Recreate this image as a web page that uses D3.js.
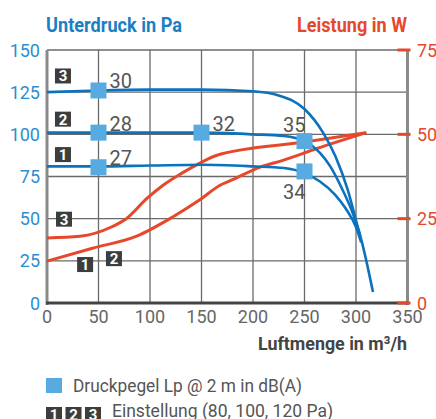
<!DOCTYPE html>
<html>
<head>
<meta charset="utf-8">
<script src="https://cdn.jsdelivr.net/npm/d3@7"></script>
<style>
  body { margin: 0; background: #fff; }
  svg { font-family: Roboto, "Liberation Sans", sans-serif; }
</style>
</head>
<body>
<div id="chart"></div>
<script>
// pressure curves (Pa) for settings 1, 2, 3: [m3/h, Pa]
const pressure1 = [[0, 81], [50, 81], [100, 81.5], [150, 82], [200, 81], [230, 80], [250, 77], [265, 72], [280, 64], [290, 56], [300, 45], [305, 36]];
const pressure2 = [[0, 101], [50, 101], [100, 101], [150, 101], [200, 100], [230, 99], [250, 96], [265, 89], [275, 81], [287, 67], [297, 53], [304, 40]];
const pressure3 = [[0, 125], [50, 126], [100, 126.5], [150, 126.5], [200, 125.5], [225, 123], [250, 115], [268, 101], [280, 87], [292, 67], [300, 49], [307, 33], [316.5, 6.5]];

// power curves (W)
const powerHigh = [[0, 19.3], [32, 19.8], [63, 22.6], [77, 25], [97, 31], [113, 35], [131, 38.5], [148, 41.4], [165, 43.8], [250, 47.7], [310, 50.5]];
const powerLow = [[0, 12.4], [45, 16.3], [87, 19.8], [122, 25.5], [148, 30.5], [168, 34.9], [179, 36.4], [207, 40.3], [229, 42.3], [262, 45.8], [310, 50.5]];

// sound pressure markers: [m3/h, Pa, dB(A)]
const soundPoints = [[50, 126, 30], [50, 101, 28], [150, 101, 32], [250, 96, 35], [50, 80.5, 27], [250, 78, 34]];

// setting badges: [m3/h, Pa, label]
const badges = [[15.5, 134.6, '3'], [15.5, 109, '2'], [15.5, 88, '1'], [16.5, 49.7, '3'], [37, 22.8, '1'], [65, 26.3, '2']];

const xTicks = [0, 50, 100, 150, 200, 250, 300, 350];
const leftTicks = [0, 25, 50, 75, 100, 125, 150];
const rightTicks = [0, 25, 50, 75];

const blue = '#0b72bd';
const red = '#e5482b';
const markerBlue = '#58abe0';

const svg = d3.select('#chart')
    .append('svg')
    .attr('width', 436)
    .attr('height', 419);

const x = d3.scaleLinear().domain([0, 350]).range([47, 407.5]);
const yL = d3.scaleLinear().domain([0, 150]).range([303, 50]);
const yR = d3.scaleLinear().domain([0, 75]).range([303, 50]);

// grid
svg.append('g')
    .selectAll('line')
    .data(xTicks.slice(1, -1))
    .enter()
    .append('line')
    .attr('x1', d => x(d)).attr('x2', d => x(d))
    .attr('y1', yL(150)).attr('y2', yL(0))
    .attr('stroke', '#6a6a6a')
    .attr('stroke-width', 1.3);

svg.append('g')
    .selectAll('line')
    .data(leftTicks.slice(1))
    .enter()
    .append('line')
    .attr('x1', x(0)).attr('x2', x(350))
    .attr('y1', d => yL(d)).attr('y2', d => yL(d))
    .attr('stroke', '#6a6a6a')
    .attr('stroke-width', 1.3);

// axes lines
svg.append('line')
    .attr('x1', x(0)).attr('x2', x(0))
    .attr('y1', yL(150)).attr('y2', yL(0) + 2)
    .attr('stroke', '#8a8a8a').attr('stroke-width', 3);
svg.append('line')
    .attr('x1', x(350)).attr('x2', x(350))
    .attr('y1', yL(150)).attr('y2', yL(0) + 2)
    .attr('stroke', '#8a8a8a').attr('stroke-width', 3);
svg.append('line')
    .attr('x1', x(0) - 1).attr('x2', x(350) + 1)
    .attr('y1', yL(0)).attr('y2', yL(0))
    .attr('stroke', '#444').attr('stroke-width', 3);

// right red tick marks
svg.append('g')
    .selectAll('line')
    .data(rightTicks)
    .enter()
    .append('line')
    .attr('x1', x(350) - 10).attr('x2', x(350) + 3)
    .attr('y1', d => yR(d)).attr('y2', d => yR(d))
    .attr('stroke', red).attr('stroke-width', 3);

// tick labels
svg.append('g')
    .selectAll('text')
    .data(leftTicks)
    .enter()
    .append('text')
    .attr('x', 40)
    .attr('y', d => yL(d) + 6.5)
    .attr('text-anchor', 'end')
    .attr('font-size', '18px')
    .attr('fill', '#2a8fd3')
    .text(d => d);

svg.append('g')
    .selectAll('text')
    .data(rightTicks)
    .enter()
    .append('text')
    .attr('x', 417)
    .attr('y', d => yR(d) + 6.5)
    .attr('font-size', '18px')
    .attr('fill', red)
    .text(d => d);

svg.append('g')
    .selectAll('text')
    .data(xTicks)
    .enter()
    .append('text')
    .attr('x', d => x(d))
    .attr('y', 323)
    .attr('text-anchor', 'middle')
    .attr('font-size', '18px')
    .attr('fill', '#666')
    .text(d => d);

// titles (condensed look via textLength)
svg.append('text')
    .attr('x', 46).attr('y', 32)
    .attr('font-size', '21px').attr('font-weight', 'bold')
    .attr('textLength', 136).attr('lengthAdjust', 'spacingAndGlyphs')
    .attr('fill', '#1b7fc4')
    .text('Unterdruck in Pa');

svg.append('text')
    .attr('x', 297).attr('y', 32)
    .attr('font-size', '21px').attr('font-weight', 'bold')
    .attr('textLength', 110).attr('lengthAdjust', 'spacingAndGlyphs')
    .attr('fill', red)
    .text('Leistung in W');

svg.append('text')
    .attr('x', 258).attr('y', 350)
    .attr('font-size', '19px').attr('font-weight', 'bold')
    .attr('textLength', 149).attr('lengthAdjust', 'spacingAndGlyphs')
    .attr('fill', '#444')
    .text('Luftmenge in m³/h');

// curves
const lineL = d3.line().x(d => x(d[0])).y(d => yL(d[1])).curve(d3.curveMonotoneX);
const lineR = d3.line().x(d => x(d[0])).y(d => yR(d[1])).curve(d3.curveMonotoneX);

[powerHigh, powerLow].forEach(function(s) {
    svg.append('path')
        .attr('d', lineR(s))
        .attr('fill', 'none')
        .attr('stroke', red)
        .attr('stroke-width', 3);
});

[pressure1, pressure2, pressure3].forEach(function(s) {
    svg.append('path')
        .attr('d', lineL(s))
        .attr('fill', 'none')
        .attr('stroke', blue)
        .attr('stroke-width', 2.6);
});

// markers
svg.append('g')
    .selectAll('rect')
    .data(soundPoints)
    .enter()
    .append('rect')
    .attr('x', d => x(d[0]) - 8)
    .attr('y', d => yL(d[1]) - 8)
    .attr('width', 16)
    .attr('height', 16)
    .attr('fill', markerBlue);

svg.append('g')
    .selectAll('text')
    .data(soundPoints)
    .enter()
    .append('text')
    .attr('x', d => d[0] === 250 ? x(d[0]) + 1 : x(d[0]) + 11)
    .attr('y', function(d) {
        if (d[2] === 35) return yL(d[1]) - 9;
        if (d[2] === 34) return yL(d[1]) + 28;
        return yL(d[1]) - 2;
    })
    .attr('text-anchor', d => d[0] === 250 ? 'end' : 'start')
    .attr('font-size', '20px')
    .attr('fill', '#555')
    .text(d => d[2]);

// setting badges
const badge = svg.append('g')
    .selectAll('g')
    .data(badges)
    .enter()
    .append('g')
    .attr('transform', d => `translate(${x(d[0])}, ${yL(d[1])})`);

badge.append('rect')
    .attr('x', -8).attr('y', -7.5)
    .attr('width', 16).attr('height', 15)
    .attr('fill', '#3d3d3d');

badge.append('text')
    .attr('y', 5.5)
    .attr('text-anchor', 'middle')
    .attr('font-size', '15px')
    .attr('font-weight', 'bold')
    .attr('fill', '#fff')
    .text(d => d[2]);

// legend
svg.append('rect')
    .attr('x', 46).attr('y', 378)
    .attr('width', 16).attr('height', 15)
    .attr('fill', markerBlue);

svg.append('text')
    .attr('x', 73).attr('y', 392)
    .attr('font-size', '19px')
    .attr('textLength', 229).attr('lengthAdjust', 'spacingAndGlyphs')
    .attr('fill', '#555')
    .text('Druckpegel Lp @ 2 m in dB(A)');

const legendBadges = svg.append('g')
    .selectAll('g')
    .data(['1', '2', '3'])
    .enter()
    .append('g')
    .attr('transform', (d, i) => `translate(${54 + i * 19.5}, 414.5)`);

legendBadges.append('rect')
    .attr('x', -8).attr('y', -7.5)
    .attr('width', 16).attr('height', 15)
    .attr('fill', '#3d3d3d');

legendBadges.append('text')
    .attr('y', 5.5)
    .attr('text-anchor', 'middle')
    .attr('font-size', '15px')
    .attr('font-weight', 'bold')
    .attr('fill', '#fff')
    .text(d => d);

svg.append('text')
    .attr('x', 112).attr('y', 417)
    .attr('font-size', '19px')
    .attr('textLength', 221).attr('lengthAdjust', 'spacingAndGlyphs')
    .attr('fill', '#555')
    .text('Einstellung (80, 100, 120 Pa)');
</script>
</body>
</html>
